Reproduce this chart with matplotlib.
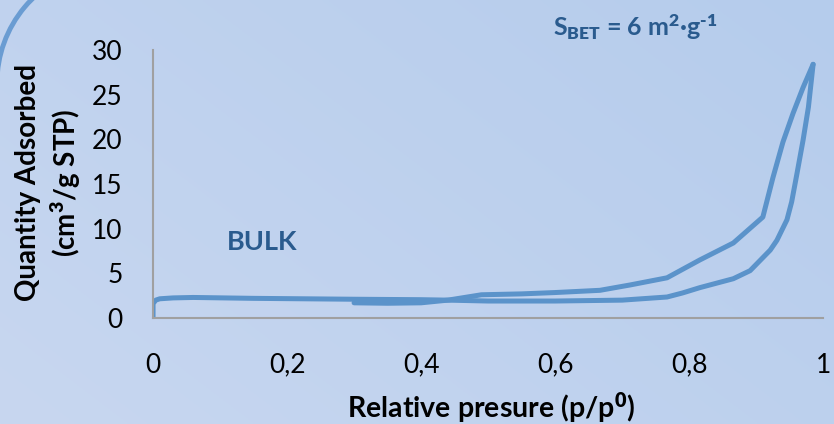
import numpy as np
import matplotlib.pyplot as plt
from matplotlib.patches import Arc
from matplotlib.transforms import IdentityTransform

# adsorption branch (lower loop at high pressure)
p_ads = [0.0, 0.0, 0.004, 0.01, 0.03, 0.06, 0.15, 0.3, 0.4, 0.44, 0.5, 0.6, 0.7,
         0.767, 0.79, 0.816, 0.866, 0.891, 0.921, 0.931, 0.946, 0.953, 0.961, 0.970, 0.978, 0.985]
q_ads = [0.0, 1.6, 2.0, 2.15, 2.25, 2.3, 2.2, 2.1, 2.05, 2.0, 1.9, 1.9, 2.0,
         2.35, 2.8, 3.4, 4.4, 5.3, 7.6, 8.7, 11.0, 13.0, 16.2, 19.9, 23.6, 28.4]

# desorption branch (upper loop), from the top down
p_des = [0.985, 0.97, 0.955, 0.94, 0.925, 0.91, 0.866, 0.816, 0.767, 0.712, 0.667,
         0.6, 0.55, 0.49, 0.44, 0.40, 0.35, 0.30]
q_des = [28.4, 25.8, 22.9, 19.7, 15.7, 11.3, 8.4, 6.5, 4.5, 3.7, 3.1,
         2.85, 2.7, 2.6, 2.0, 1.7, 1.65, 1.7]

xticks = [0, 0.2, 0.4, 0.6, 0.8, 1.0]
xtick_labels = ['0', '0,2', '0,4', '0,6', '0,8', '1']
yticks = [0, 5, 10, 15, 20, 25, 30]

line_color = '#5b93ca'
text_blue = '#2a5b8e'
plt.rcParams['font.family'] = ['Lato', 'DejaVu Sans']
# sub/superscripts: heavier weight so they hold up at the small size
plt.rcParams['mathtext.fontset'] = 'custom'
plt.rcParams['mathtext.rm'] = 'Lato:weight=heavy'
plt.rcParams['mathtext.it'] = 'Lato:weight=heavy'
plt.rcParams['mathtext.bf'] = 'Lato:weight=heavy'

fig = plt.figure(figsize=(8.34, 4.24), dpi=100)

# soft diagonal background
bg = fig.add_axes([0, 0, 1, 1], zorder=-10)
yy, xx = np.mgrid[0:1:200j, 0:1:400j]
t = (xx * 0.6 + yy * 0.4)
c0 = np.array([200, 215, 240]) / 255
c1 = np.array([181, 204, 236]) / 255
img = c0[None, None, :] * (1 - t[..., None]) + c1[None, None, :] * t[..., None]
bg.imshow(img, origin='lower', extent=[0, 1, 0, 1], aspect='auto')
bg.axis('off')

# rounded frame corner on the left
fig.add_artist(Arc((115, 341), 236, 236, theta1=100, theta2=180,
                   transform=IdentityTransform(), color='#6a9cd2', lw=3.5))

ax = fig.add_axes([0.1835, 0.25, 0.8035, 0.632])
ax.patch.set_alpha(0)
ax.plot(p_ads, q_ads, color=line_color, lw=3.6, solid_joinstyle='round', solid_capstyle='round')
ax.plot(p_des, q_des, color=line_color, lw=3.6, solid_joinstyle='round', solid_capstyle='round')

ax.set_xlim(0, 1)
ax.set_ylim(0, 30)
ax.set_xticks(xticks)
ax.set_xticklabels(xtick_labels)
ax.set_yticks(yticks)
ax.tick_params(length=0, labelsize=19)
ax.tick_params(axis='x', pad=25)
ax.tick_params(axis='y', pad=22)
for s in ['top', 'right']:
    ax.spines[s].set_visible(False)
for s in ['left', 'bottom']:
    ax.spines[s].set_color('#a0a0a0')
    ax.spines[s].set_linewidth(1.5)

fig.text(0.589, 0.038, r'Relative presure (p/p$^{\mathbf{0}}$)', ha='center', va='center',
         fontsize=20.5, fontweight='bold')
fig.text(0.034, 0.57, 'Quantity Adsorbed', ha='center', va='center', rotation=90,
         fontsize=20, fontweight='bold')
fig.text(0.079, 0.57, r'(cm$^{\mathbf{3}}$/g STP)', ha='center', va='center', rotation=90,
         fontsize=20, fontweight='bold')

fig.text(0.314, 0.43, 'BULK', ha='center', va='center', fontsize=19.5,
         fontweight='bold', color=text_blue)
fig.text(0.762, 0.936, r'S$_{\mathbf{BET}}$ = 6 m$^{\mathbf{2}}$·g$^{\mathbf{\text{-}1}}$',
         ha='center', va='center', fontsize=18, fontweight='bold', color=text_blue)

plt.savefig('out.png', dpi=100)
